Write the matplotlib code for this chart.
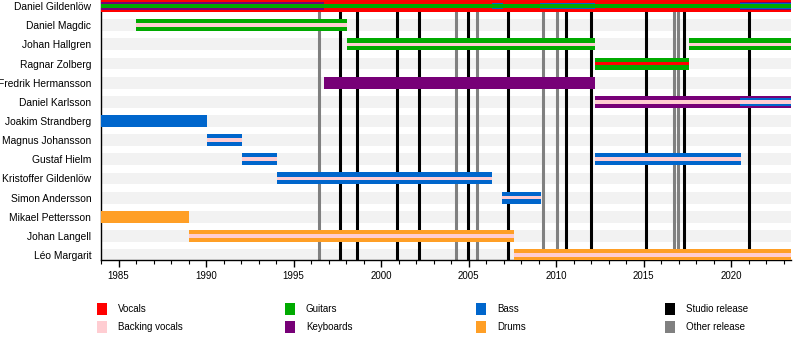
import matplotlib
matplotlib.use("Agg")
import matplotlib.pyplot as plt
from matplotlib.patches import Rectangle
from matplotlib.ticker import MultipleLocator

plt.rcParams['font.family'] = ['Liberation Sans', 'DejaVu Sans']

START = 1984.0
END = 2023.4

members = ["Daniel Gildenlöw", "Daniel Magdic", "Johan Hallgren", "Ragnar Zolberg",
           "Fredrik Hermansson", "Daniel Karlsson", "Joakim Strandberg", "Magnus Johansson",
           "Gustaf Hielm", "Kristoffer Gildenlöw", "Simon Andersson", "Mikael Pettersson",
           "Johan Langell", "Léo Margarit"]

# (member, from, to)
vocals = [("Daniel Gildenlöw", 1984.0, END), ("Ragnar Zolberg", 2012.2, 2017.6)]
guitars = [("Daniel Gildenlöw", 1984.0, END), ("Daniel Magdic", 1986.0, 1998.05),
           ("Johan Hallgren", 1998.05, 2012.2), ("Johan Hallgren", 2017.6, END),
           ("Ragnar Zolberg", 2012.2, 2017.6)]
keyboards = [("Daniel Gildenlöw", 1984.0, 1996.75), ("Daniel Gildenlöw", 2020.5, END),
             ("Fredrik Hermansson", 1996.75, 2012.2), ("Daniel Karlsson", 2012.2, END)]
bass = [("Daniel Gildenlöw", 2006.35, 2006.95), ("Daniel Gildenlöw", 2009.1, 2012.2),
        ("Daniel Gildenlöw", 2020.5, END), ("Daniel Karlsson", 2020.5, END),
        ("Joakim Strandberg", 1984.0, 1990.05), ("Magnus Johansson", 1990.05, 1992.05),
        ("Gustaf Hielm", 1992.05, 1994.05), ("Gustaf Hielm", 2012.2, 2020.55),
        ("Kristoffer Gildenlöw", 1994.05, 2006.35), ("Simon Andersson", 2006.9, 2009.15)]
drums = [("Mikael Pettersson", 1984.0, 1989.05), ("Johan Langell", 1989.05, 2007.6),
         ("Léo Margarit", 2007.6, END)]
backing_vocals = [("Daniel Magdic", 1986.0, 1998.05), ("Johan Hallgren", 1998.05, 2012.2),
                  ("Johan Hallgren", 2017.6, END), ("Daniel Karlsson", 2012.2, END),
                  ("Magnus Johansson", 1990.05, 1992.05), ("Gustaf Hielm", 1992.05, 1994.05),
                  ("Gustaf Hielm", 2012.2, 2020.55), ("Kristoffer Gildenlöw", 1994.05, 2006.35),
                  ("Simon Andersson", 2006.9, 2009.15), ("Johan Langell", 1989.05, 2007.6),
                  ("Léo Margarit", 2007.6, END)]

studio_releases = [1997.68, 1998.63, 2000.9, 2002.19, 2004.95, 2007.27, 2010.59,
                   2011.98, 2015.13, 2017.33, 2020.99]
other_releases = [1996.47, 2004.29, 2005.5, 2009.27, 2010.06, 2016.76, 2016.97]

legend_labels = ["Vocals", "Backing vocals", "Guitars", "Keyboards", "Bass", "Drums",
                 "Studio release", "Other release"]
legend_colors = ["#ff0000", "#ffcdd2", "#00aa00", "#770077", "#0066cc", "#ff9f26",
                 "#000000", "#808080"]
c = dict(zip(legend_labels, legend_colors))

row = {m: i for i, m in enumerate(members)}
FULL, MID, SMALL, STRIPE = 0.63, 0.42, 0.3, 0.2

fig = plt.figure(figsize=(8, 3.5), dpi=100)
ax = fig.add_axes([101 / 800, 1 - 260 / 350, 689.7 / 800, 260 / 350])


def draw(segs, color, h, z=3):
    for m, a, b in segs:
        ax.barh(row[m], b - a, left=a, height=h, color=color, linewidth=0, zorder=z)


# grey row bands
ax.barh(range(len(members)), END - START, left=START, height=0.62, color="#f2f2f2",
        linewidth=0, zorder=0)

for x in studio_releases:
    ax.axvline(x, color=c["Studio release"], lw=2.2, zorder=1)
for x in other_releases:
    ax.axvline(x, color=c["Other release"], lw=2.2, zorder=1)

# main bars
draw([s for s in vocals if s[0] == members[0]], c["Vocals"], FULL)
draw([s for s in guitars if s[0] != members[0]], c["Guitars"], FULL)
draw([s for s in keyboards if s[0] != members[0]], c["Keyboards"], FULL)
draw([s for s in bass if s[0] not in (members[0], "Daniel Karlsson")], c["Bass"], FULL)
draw(drums, c["Drums"], FULL)
# secondary instruments
draw([s for s in keyboards if s[0] == members[0]], c["Keyboards"], MID, 4)
draw([s for s in bass if s[0] == members[0]], c["Bass"], SMALL, 5)
draw([s for s in bass if s[0] == "Daniel Karlsson"], c["Bass"], MID, 4)
draw([s for s in guitars if s[0] == members[0]], c["Guitars"], STRIPE, 6)
draw([s for s in vocals if s[0] != members[0]], c["Vocals"], STRIPE, 6)
draw(backing_vocals, c["Backing vocals"], STRIPE, 6)

ax.set_xlim(START, END)
ax.set_ylim(len(members) - 1 + 0.26, -0.32)
ax.set_yticks(range(len(members)))
ax.set_yticklabels(members, fontsize=7.4)
ax.tick_params(axis="y", length=0, pad=7)
ax.xaxis.set_major_locator(MultipleLocator(5))
ax.xaxis.set_minor_locator(MultipleLocator(1))
ax.tick_params(axis="x", which="major", length=5, width=1, labelsize=7, pad=3)
ax.tick_params(axis="x", which="minor", length=3, width=0.8)
for s in ("top", "right"):
    ax.spines[s].set_visible(False)
ax.spines["left"].set_linewidth(1)
ax.spines["bottom"].set_linewidth(1)

# legend laid out in four columns
col_x = [97, 285, 476, 665]
row_y = [309, 327]
for i, (lab, col) in enumerate(zip(legend_labels, legend_colors)):
    x = col_x[i // 2]
    y = row_y[i % 2]
    fig.add_artist(Rectangle((x / 800, 1 - (y + 6) / 350), 10 / 800, 12 / 350,
                             transform=fig.transFigure, color=col, lw=0))
    fig.text((x + 21) / 800, 1 - y / 350, lab, fontsize=7, va="center", ha="left")

fig.savefig("out.png", dpi=100)
